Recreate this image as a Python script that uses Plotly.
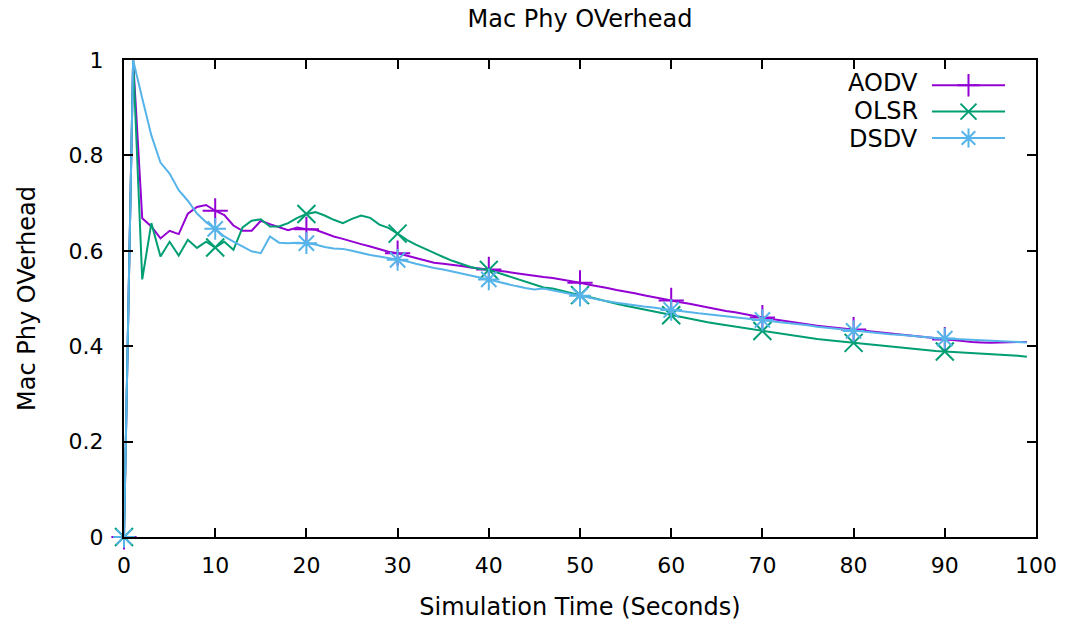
import plotly.graph_objects as go

time_s = list(range(100))

aodv = [0.0, 1.0, 0.668, 0.651, 0.626, 0.642, 0.635, 0.678, 0.692, 0.696,
        0.684, 0.675, 0.653, 0.642, 0.642, 0.663, 0.656, 0.649, 0.643, 0.649,
        0.645, 0.644, 0.637, 0.630, 0.625, 0.619, 0.614, 0.609, 0.603, 0.598,
        0.595, 0.590, 0.585, 0.580, 0.575, 0.573, 0.571, 0.568, 0.565, 0.563,
        0.561, 0.558, 0.556, 0.553, 0.550, 0.547, 0.545, 0.543, 0.540, 0.536,
        0.533, 0.529, 0.526, 0.522, 0.518, 0.515, 0.511, 0.507, 0.503, 0.499,
        0.496, 0.492, 0.489, 0.485, 0.482, 0.478, 0.474, 0.471, 0.467, 0.464,
        0.460, 0.457, 0.454, 0.451, 0.448, 0.446, 0.443, 0.441, 0.439, 0.437,
        0.435, 0.432, 0.430, 0.428, 0.426, 0.424, 0.422, 0.420, 0.418, 0.416,
        0.414, 0.412, 0.411, 0.409, 0.408, 0.407, 0.408, 0.409, 0.409, 0.409]

olsr = [0.0, 1.0, 0.540, 0.658, 0.588, 0.619, 0.590, 0.623, 0.606, 0.619,
        0.607, 0.619, 0.602, 0.649, 0.663, 0.666, 0.651, 0.651, 0.658, 0.669,
        0.677, 0.681, 0.674, 0.665, 0.658, 0.667, 0.674, 0.669, 0.655, 0.648,
        0.636, 0.623, 0.613, 0.604, 0.595, 0.587, 0.579, 0.572, 0.566, 0.562,
        0.560, 0.554, 0.548, 0.542, 0.535, 0.529, 0.523, 0.521, 0.516, 0.511,
        0.507, 0.503, 0.498, 0.493, 0.489, 0.485, 0.481, 0.477, 0.473, 0.469,
        0.465, 0.461, 0.457, 0.453, 0.450, 0.447, 0.444, 0.441, 0.438, 0.435,
        0.432, 0.429, 0.426, 0.423, 0.420, 0.418, 0.415, 0.413, 0.411, 0.409,
        0.407, 0.405, 0.403, 0.401, 0.399, 0.397, 0.395, 0.394, 0.392, 0.390,
        0.389, 0.388, 0.387, 0.385, 0.384, 0.383, 0.382, 0.381, 0.380, 0.378]

dsdv = [0.0, 1.0, 0.920, 0.842, 0.785, 0.762, 0.727, 0.705, 0.678, 0.660,
        0.646, 0.630, 0.619, 0.609, 0.599, 0.595, 0.630, 0.617, 0.616, 0.617,
        0.616, 0.613, 0.608, 0.605, 0.604, 0.600, 0.595, 0.591, 0.588, 0.585,
        0.581, 0.578, 0.573, 0.568, 0.564, 0.561, 0.557, 0.553, 0.548, 0.544,
        0.540, 0.535, 0.530, 0.526, 0.522, 0.519, 0.521, 0.517, 0.513, 0.509,
        0.506, 0.502, 0.498, 0.494, 0.491, 0.488, 0.485, 0.483, 0.481, 0.478,
        0.476, 0.474, 0.471, 0.469, 0.467, 0.465, 0.462, 0.460, 0.458, 0.457,
        0.455, 0.453, 0.451, 0.448, 0.446, 0.444, 0.441, 0.439, 0.437, 0.434,
        0.432, 0.430, 0.428, 0.427, 0.425, 0.424, 0.422, 0.420, 0.419, 0.417,
        0.416, 0.415, 0.414, 0.413, 0.412, 0.411, 0.410, 0.409, 0.409, 0.408]

series_names = ["AODV", "OLSR", "DSDV"]
series_values = [aodv, olsr, dsdv]
series_colors = ["#9400d3", "#009e73", "#56b4e9"]
series_symbols = ["cross-thin-open", "x-thin-open", "asterisk-open"]
point_interval = 10

x_ticks = list(range(0, 101, 10))
y_ticks = [0, 0.2, 0.4, 0.6, 0.8, 1]

FONT = "DejaVu Sans"
FS_TICK = 22
FS_TEXT = 24

fig = go.Figure()
for name, vals, col, sym in zip(series_names, series_values, series_colors, series_symbols):
    fig.add_trace(go.Scatter(
        x=time_s, y=vals, mode="lines", line=dict(color=col, width=2),
        showlegend=False, hoverinfo="skip", cliponaxis=False))
    fig.add_trace(go.Scatter(
        x=time_s[::point_interval], y=vals[::point_interval], mode="markers",
        marker=dict(symbol=sym, size=18, color=col, line=dict(color=col, width=2)),
        showlegend=False, cliponaxis=False))

for name, col, sym in zip(series_names, series_colors, series_symbols):
    fig.add_trace(go.Scatter(
        x=[None], y=[None], mode="lines+markers", name="\u00a0",
        line=dict(color=col, width=2),
        marker=dict(symbol=sym, size=16, color=col, line=dict(color=col, width=2)),
        showlegend=True))

# legend labels (gnuplot style: text to the left of the sample)
plot_l, plot_r, plot_t, plot_b = 124, 1036, 60, 537
pw, ph = plot_r - plot_l, plot_b - plot_t
label_rows = [83, 111, 139]
for name, yy in zip(series_names, label_rows):
    fig.add_annotation(
        text=name, xref="paper", yref="paper",
        x=(920 - plot_l) / pw, y=(plot_b - yy) / ph,
        xanchor="right", yanchor="middle", showarrow=False,
        font=dict(family=FONT, size=FS_TEXT, color="black"))

axis_common = dict(
    showline=True, linecolor="black", linewidth=2, mirror="allticks",
    ticks="inside", ticklen=9, tickwidth=2, tickcolor="black",
    showgrid=False, zeroline=False, automargin=False,
    tickfont=dict(family=FONT, size=FS_TICK, color="black"),
)

fig.update_layout(
    width=1068, height=623,
    paper_bgcolor="white", plot_bgcolor="white",
    margin=dict(l=plot_l, r=1068 - plot_r, t=plot_t, b=623 - plot_b),
    title=dict(text="Mac Phy OVerhead", x=(plot_l + plot_r) / 2 / 1068, xanchor="center",
               y=1 - 19 / 623, yanchor="middle", yref="container",
               font=dict(family=FONT, size=FS_TEXT, color="black")),
    xaxis=dict(range=[0, 100], tickvals=x_ticks, ticktext=[str(v) for v in x_ticks],
               ticklabelstandoff=8,
               title=dict(text="Simulation Time (Seconds)", standoff=21,
                          font=dict(family=FONT, size=FS_TEXT, color="black")),
               **axis_common),
    yaxis=dict(range=[0, 1], tickvals=y_ticks, ticktext=["0", "0.2", "0.4", "0.6", "0.8", "1"],
               ticklabelstandoff=14,
               title=dict(text="Mac Phy OVerhead", standoff=26,
                          font=dict(family=FONT, size=FS_TEXT, color="black")),
               **axis_common),
    legend=dict(x=(927 - plot_l) / pw, y=(plot_b - 67) / ph, xanchor="left", yanchor="top",
                bgcolor="rgba(0,0,0,0)", itemwidth=73, tracegroupgap=0,
                font=dict(family=FONT, size=18, color="black")),
    showlegend=True,
)

fig.write_html("out.html")
